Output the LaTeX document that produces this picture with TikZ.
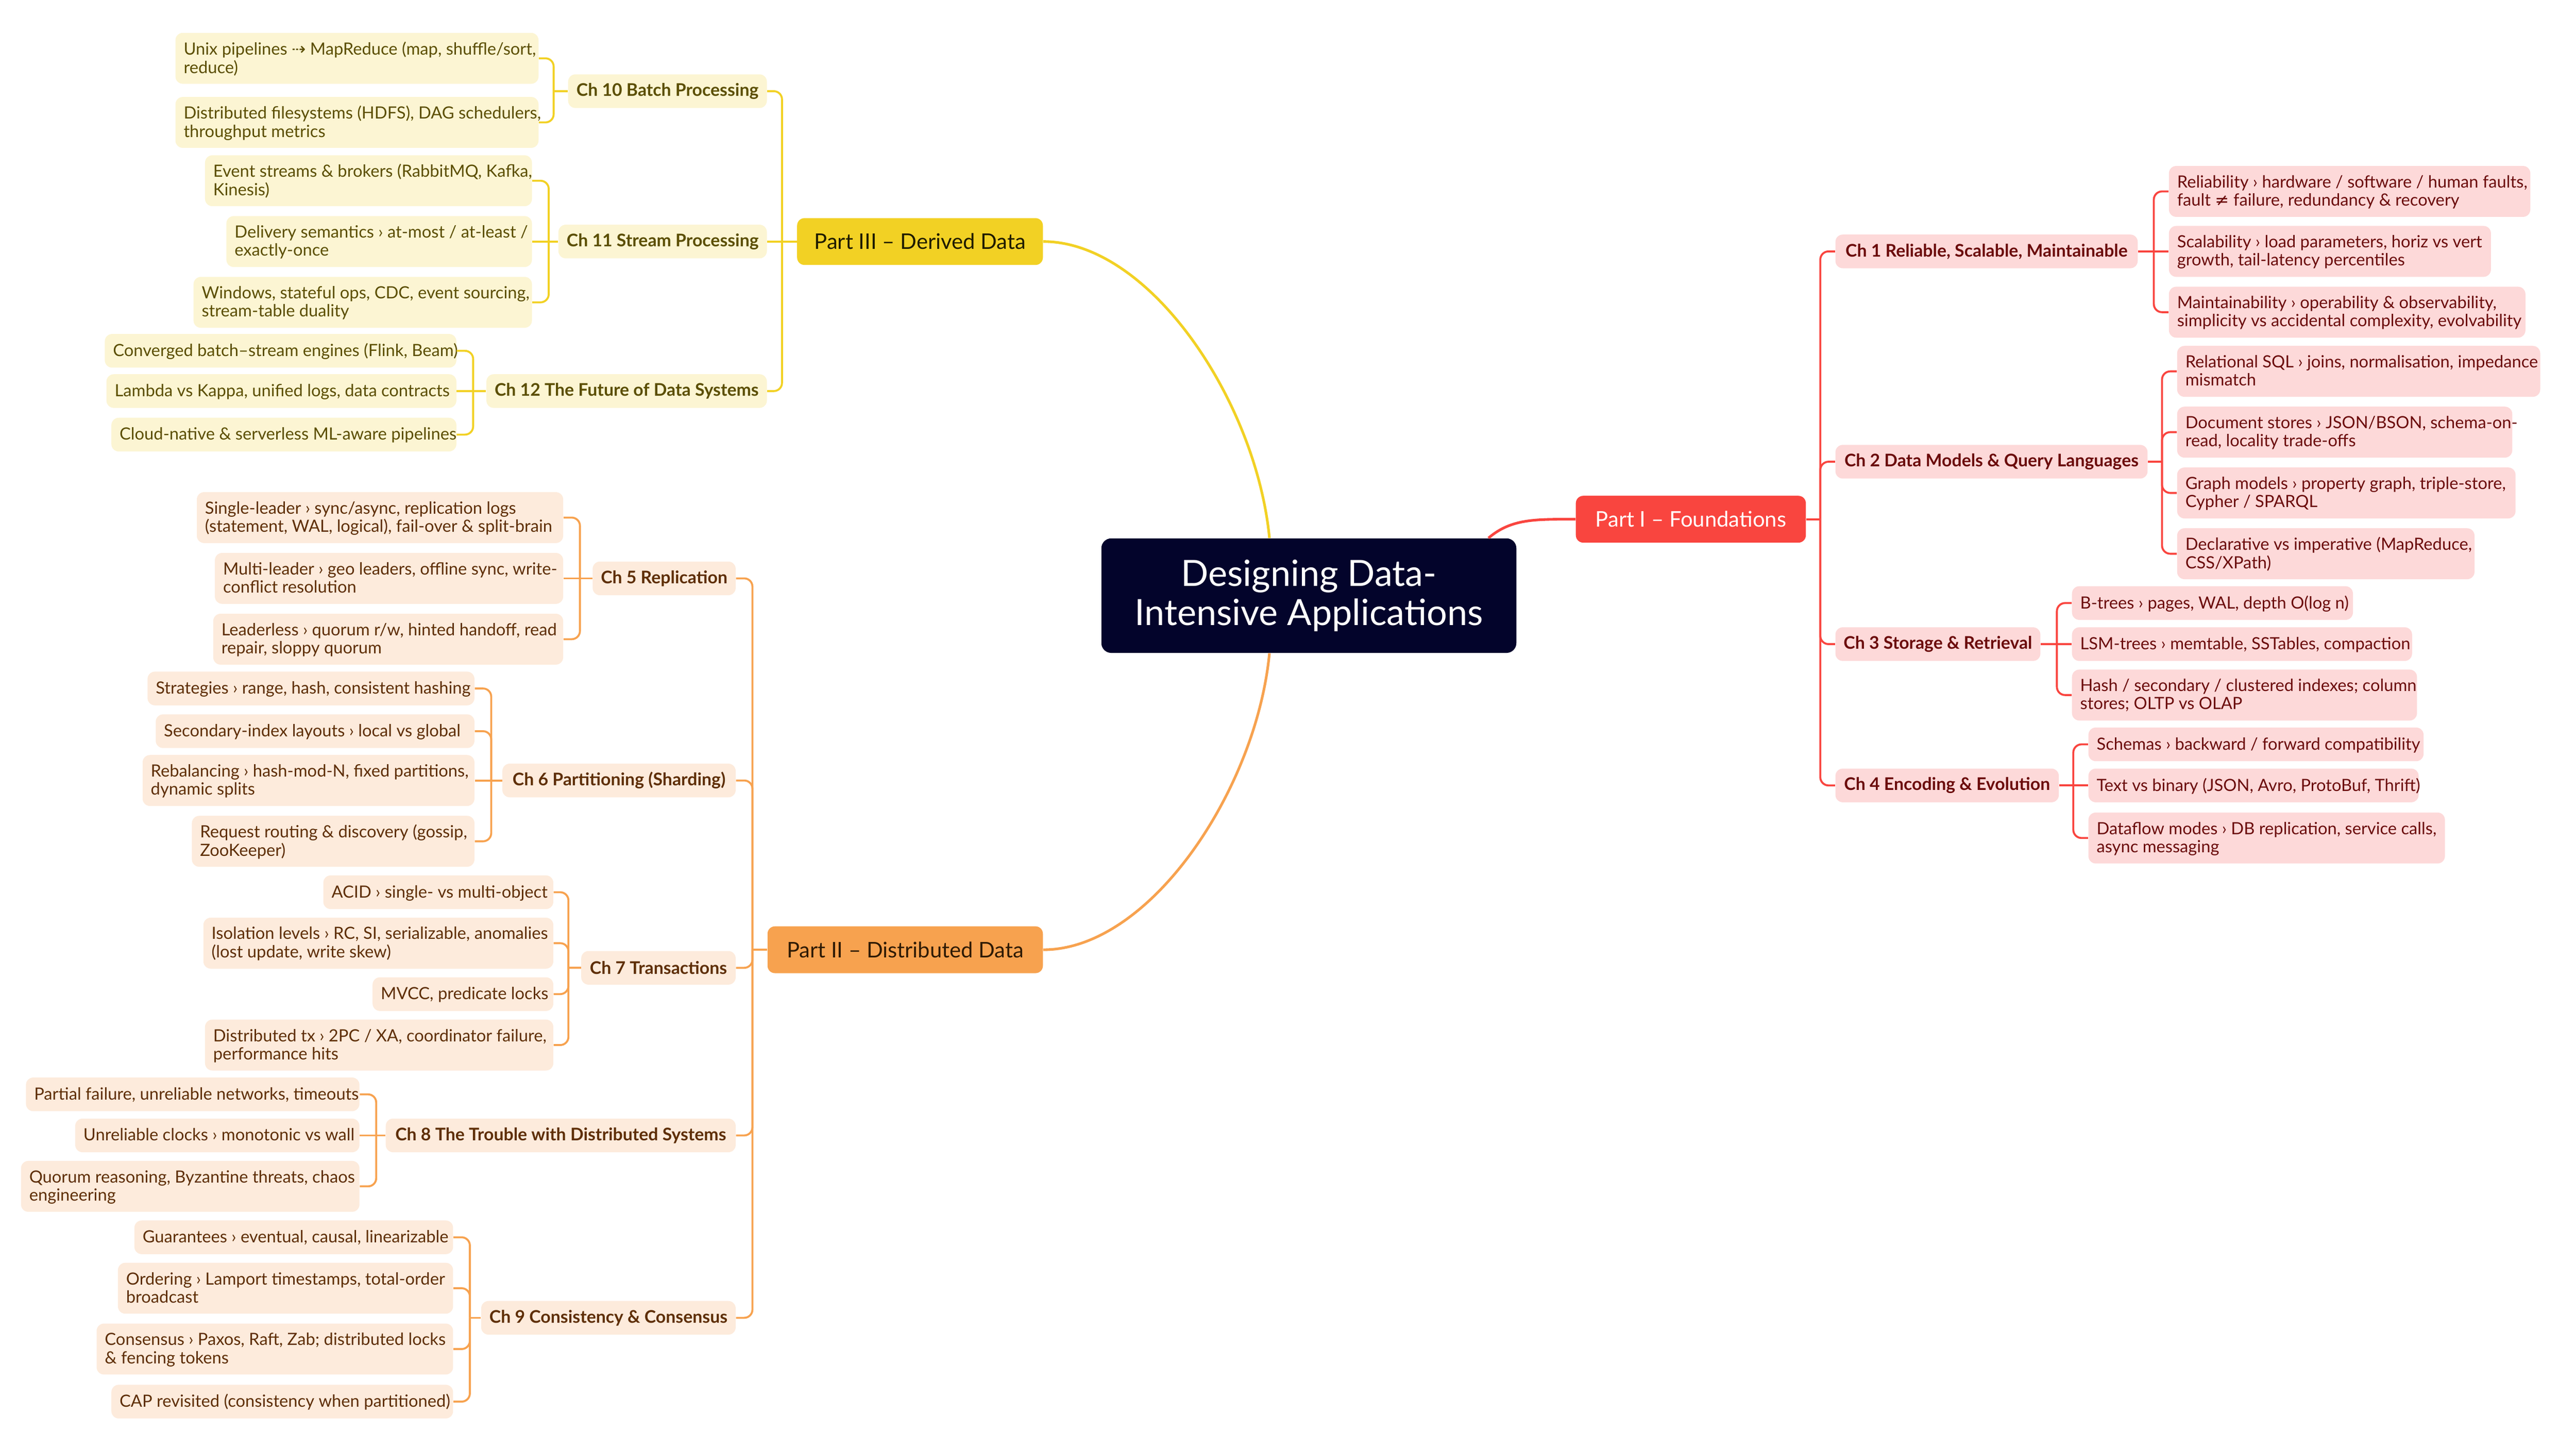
\documentclass[tikz,border=0pt]{standalone}
\usepackage{fontspec}
\setmainfont{Lato}
\newfontfamily\symf{DejaVu Sans}
\usetikzlibrary{calc}
\definecolor{redM}{HTML}{F9453F}
\definecolor{redL}{HTML}{FDD9D9}
\definecolor{redT}{HTML}{6B0B0B}
\definecolor{yelM}{HTML}{F2D124}
\definecolor{yelL}{HTML}{FCF5D3}
\definecolor{yelT}{HTML}{5B4E00}
\definecolor{orgM}{HTML}{F7A24F}
\definecolor{orgL}{HTML}{FDEBDC}
\definecolor{orgT}{HTML}{5E2E05}
\definecolor{navy}{HTML}{03042B}
\definecolor{p3T}{HTML}{1E1B00}
\definecolor{p2T}{HTML}{2E1A05}
\tikzset{
  base/.style={rounded corners=4.5pt, inner xsep=5pt, inner ysep=0pt},
  lfont/.style={font=\fontsize{10.25}{11}\selectfont},
  cfont/.style={font=\bfseries\fontsize{10.6}{12}\selectfont},
  rleaf/.style={base, fill=redL, text=redT, lfont},
  yleaf/.style={base, fill=yelL, text=yelT, lfont},
  oleaf/.style={base, fill=orgL, text=orgT, lfont},
  rchap/.style={base, fill=redL, text=redT, cfont, minimum height=20.5pt},
  ychap/.style={base, fill=yelL, text=yelT, cfont, minimum height=20.5pt},
  ochap/.style={base, fill=orgL, text=orgT, cfont, minimum height=20.5pt},
  partbox/.style={rounded corners=4.5pt, inner sep=0pt, minimum height=28.5pt, font=\fontsize{13.1}{15}\selectfont},
  rline/.style={draw=redM, line width=1.2pt, rounded corners=5pt},
  yline/.style={draw=yelM, line width=1.2pt, rounded corners=5pt},
  oline/.style={draw=orgM, line width=1.2pt, rounded corners=5pt},
}
\newcommand\leaf[8]{\node[#2,anchor=#3,minimum width=#6pt,minimum height=#7pt] (#1) at (#4,#5) {\raisebox{-1.1pt}[\height][\depth]{\makebox[\dimexpr#6pt-10pt\relax][l]{\begin{tabular}{@{}l@{}}#8\end{tabular}}}};}
\begin{document}
\begin{tikzpicture}[x=1pt,y=-1pt]
\useasboundingbox (0,0) rectangle (1568,871.27);
\fill[white] (0,0) rectangle (1568,871.27);

% ---------- centre and parts ----------
\node[fill=navy, text=white, rounded corners=6pt, inner sep=0pt, align=center,
      minimum width=252.6pt, minimum height=69.7pt,
      font=\fontsize{22}{24}\selectfont] (ctr) at (796.7,362.5) {Designing Data-\\Intensive Applications};
\node[partbox, fill=redM, text=white, anchor=west, minimum width=140pt] (p1) at (959,316) {Part I – Foundations};
\node[partbox, fill=yelM, text=p3T, anchor=west, minimum width=149.6pt] (p3) at (485,147) {Part III – Derived Data};
\node[partbox, fill=orgM, text=p2T, anchor=west, minimum width=167.6pt] (p2) at (467,578) {Part II – Distributed Data};

\draw[draw=yelM, line width=1.6pt] ($(ctr.north)+(-24,0)$) .. controls +(-8,-83) and +(65,0) .. (p3.east);
\draw[draw=orgM, line width=1.6pt] ($(ctr.south)+(-24,0)$) .. controls +(-8,83) and +(65,0) .. (p2.east);
\draw[draw=redM, line width=1.6pt] ($(ctr.north)+(109.3,0)$) .. controls +(14,-12) and +(-24,0) .. (p1.west);

% ---------- Part I chapters ----------
\node[rchap, anchor=west, minimum width=184pt] (c1) at (1117,153) {Ch 1 Reliable, Scalable, Maintainable};
\node[rchap, anchor=west, minimum width=190pt] (c2) at (1117,281) {Ch 2 Data Models \& Query Languages};
\node[rchap, anchor=west, minimum width=124pt] (c3) at (1117,392) {Ch 3 Storage \& Retrieval};
\node[rchap, anchor=west, minimum width=136pt] (c4) at (1117,478) {Ch 4 Encoding \& Evolution};

\leaf{r11}{rleaf}{west}{1320}{116.5}{220}{31}{Reliability › hardware / software / human faults,\\fault {\symf ≠} failure, redundancy \& recovery}
\leaf{r12}{rleaf}{west}{1320}{153}{196}{31}{Scalability › load parameters, horiz vs vert\\growth, tail-latency percentiles}
\leaf{r13}{rleaf}{west}{1320}{190}{217}{31}{Maintainability › operability \& observability,\\simplicity vs accidental complexity, evolvability}
\leaf{r21}{rleaf}{west}{1325}{226}{221}{31}{Relational SQL › joins, normalisation, impedance\\mismatch}
\leaf{r22}{rleaf}{west}{1325}{263}{204}{31}{Document stores › JSON/BSON, schema-on-\\read, locality trade-offs}
\leaf{r23}{rleaf}{west}{1325}{300}{206}{31}{Graph models › property graph, triple-store,\\Cypher / SPARQL}
\leaf{r24}{rleaf}{west}{1325}{337}{181}{31}{Declarative vs imperative (MapReduce,\\CSS/XPath)}
\leaf{r31}{rleaf}{west}{1261}{367}{171}{20.5}{B-trees › pages, WAL, depth O(log n)}
\leaf{r32}{rleaf}{west}{1261}{392}{207}{20.5}{LSM-trees › memtable, SSTables, compaction}
\leaf{r33}{rleaf}{west}{1261}{423}{210}{31}{Hash / secondary / clustered indexes; column\\stores; OLTP vs OLAP}
\leaf{r41}{rleaf}{west}{1271}{453}{204}{20.5}{Schemas › backward / forward compatibility}
\leaf{r42}{rleaf}{west}{1271}{478}{201}{20.5}{Text vs binary (JSON, Avro, ProtoBuf, Thrift)}
\leaf{r43}{rleaf}{west}{1271}{510}{217}{31}{Dataflow modes › DB replication, service calls,\\async messaging}

\coordinate (tP1) at (1108,316);
\draw[rline] (p1.east) -- (tP1);
\foreach \n in {c1,c2,c3,c4} \draw[rline] (tP1) -- (tP1 |- \n.west) -- (\n.west);
\coordinate (t1) at (1311,153);
\draw[rline] (c1.east) -- (t1) -- (r12.west);
\foreach \n in {r11,r13} \draw[rline] (t1) -- (t1 |- \n.west) -- (\n.west);
\coordinate (t2) at (1316,281);
\draw[rline] (c2.east) -- (t2);
\foreach \n in {r21,r22,r23,r24} \draw[rline] (t2) -- (t2 |- \n.west) -- (\n.west);
\coordinate (t3) at (1252,392);
\draw[rline] (c3.east) -- (t3) -- (r32.west);
\foreach \n in {r31,r33} \draw[rline] (t3) -- (t3 |- \n.west) -- (\n.west);
\coordinate (t4) at (1262,478);
\draw[rline] (c4.east) -- (t4) -- (r42.west);
\foreach \n in {r41,r43} \draw[rline] (t4) -- (t4 |- \n.west) -- (\n.west);

% ---------- Part III chapters ----------
\node[ychap, anchor=east, minimum width=121pt] (c10) at (467,55.5) {Ch 10 Batch Processing};
\node[ychap, anchor=east, minimum width=125pt] (c11) at (467,147) {Ch 11 Stream Processing};
\node[ychap, anchor=east, minimum width=170pt] (c12) at (467,238) {Ch 12 The Future of Data Systems};

\leaf{y101}{yleaf}{east}{328}{35.5}{221}{31}{Unix pipelines {\symf ⇢} MapReduce (map, shuffle/sort,\\reduce)}
\leaf{y102}{yleaf}{east}{328}{74.5}{221}{31}{Distributed filesystems (HDFS), DAG schedulers,\\throughput metrics}
\leaf{y111}{yleaf}{east}{324}{110}{199}{31}{Event streams \& brokers (RabbitMQ, Kafka,\\Kinesis)}
\leaf{y112}{yleaf}{east}{324}{147}{186}{31}{Delivery semantics › at-most / at-least /\\exactly-once}
\leaf{y113}{yleaf}{east}{324}{184}{206}{31}{Windows, stateful ops, CDC, event sourcing,\\stream-table duality}
\leaf{y121}{yleaf}{east}{278}{213.5}{214}{20.5}{Converged batch–stream engines (Flink, Beam)}
\leaf{y122}{yleaf}{east}{278}{238}{213}{20.5}{Lambda vs Kappa, unified logs, data contracts}
\leaf{y123}{yleaf}{east}{278}{264.5}{210}{20.5}{Cloud-native \& serverless ML-aware pipelines}

\coordinate (tP3) at (476,147);
\draw[yline] (p3.west) -- (tP3) -- (c11.east);
\foreach \n in {c10,c12} \draw[yline] (tP3) -- (tP3 |- \n.east) -- (\n.east);
\coordinate (t10) at (337,55.5);
\draw[yline] (c10.west) -- (t10);
\foreach \n in {y101,y102} \draw[yline] (t10) -- (t10 |- \n.east) -- (\n.east);
\coordinate (t11) at (334,147);
\draw[yline] (c11.west) -- (t11) -- (y112.east);
\foreach \n in {y111,y113} \draw[yline] (t11) -- (t11 |- \n.east) -- (\n.east);
\coordinate (t12) at (288,238);
\draw[yline] (c12.west) -- (t12) -- (y122.east);
\foreach \n in {y121,y123} \draw[yline] (t12) -- (t12 |- \n.east) -- (\n.east);

% ---------- Part II chapters ----------
\node[ochap, anchor=east, minimum width=86pt] (c5) at (448,352) {Ch 5 Replication};
\node[ochap, anchor=east, minimum width=142pt] (c6) at (448,475) {Ch 6 Partitioning (Sharding)};
\node[ochap, anchor=east, minimum width=94pt] (c7) at (448,589) {Ch 7 Transactions};
\node[ochap, anchor=east, minimum width=213pt] (c8) at (448,691) {Ch 8 The Trouble with Distributed Systems};
\node[ochap, anchor=east, minimum width=153pt] (c9) at (448,802) {Ch 9 Consistency \& Consensus};

\leaf{o51}{oleaf}{east}{343}{315}{223}{31}{Single-leader › sync/async, replication logs\\(statement, WAL, logical), fail-over \& split-brain}
\leaf{o52}{oleaf}{east}{343}{352}{212}{31}{Multi-leader › geo leaders, offline sync, write-\\conflict resolution}
\leaf{o53}{oleaf}{east}{343}{389}{213}{31}{Leaderless › quorum r/w, hinted handoff, read\\repair, sloppy quorum}
\leaf{o61}{oleaf}{east}{289}{419}{199}{20.5}{Strategies › range, hash, consistent hashing}
\leaf{o62}{oleaf}{east}{289}{445}{194}{20.5}{Secondary-index layouts › local vs global}
\leaf{o63}{oleaf}{east}{289}{475}{202}{31}{Rebalancing › hash-mod-N, fixed partitions,\\dynamic splits}
\leaf{o64}{oleaf}{east}{289}{512}{172}{31}{Request routing \& discovery (gossip,\\ZooKeeper)}
\leaf{o71}{oleaf}{east}{337}{543}{140}{20.5}{ACID › single- vs multi-object}
\leaf{o72}{oleaf}{east}{337}{574}{213}{31}{Isolation levels › RC, SI, serializable, anomalies\\(lost update, write skew)}
\leaf{o73}{oleaf}{east}{337}{605}{110}{20.5}{MVCC, predicate locks}
\leaf{o74}{oleaf}{east}{337}{636}{212}{31}{Distributed tx › 2PC / XA, coordinator failure,\\performance hits}
\leaf{o81}{oleaf}{east}{219}{666}{203}{20.5}{Partial failure, unreliable networks, timeouts}
\leaf{o82}{oleaf}{east}{219}{691}{173}{20.5}{Unreliable clocks › monotonic vs wall}
\leaf{o83}{oleaf}{east}{219}{722}{206}{31}{Quorum reasoning, Byzantine threats, chaos\\engineering}
\leaf{o91}{oleaf}{east}{276}{753}{194}{20.5}{Guarantees › eventual, causal, linearizable}
\leaf{o92}{oleaf}{east}{276}{784}{204}{31}{Ordering › Lamport timestamps, total-order\\broadcast}
\leaf{o93}{oleaf}{east}{276}{821}{217}{31}{Consensus › Paxos, Raft, Zab; distributed locks\\\& fencing tokens}
\leaf{o94}{oleaf}{east}{276}{853}{208}{20.5}{CAP revisited (consistency when partitioned)}

\coordinate (tP2) at (458,578);
\draw[oline] (p2.west) -- (tP2);
\foreach \n in {c5,c6,c7,c8,c9} \draw[oline] (tP2) -- (tP2 |- \n.east) -- (\n.east);
\coordinate (t5) at (353,352);
\draw[oline] (c5.west) -- (t5) -- (o52.east);
\foreach \n in {o51,o53} \draw[oline] (t5) -- (t5 |- \n.east) -- (\n.east);
\coordinate (t6) at (299,475);
\draw[oline] (c6.west) -- (t6) -- (o63.east);
\foreach \n in {o61,o62,o64} \draw[oline] (t6) -- (t6 |- \n.east) -- (\n.east);
\coordinate (t7) at (346,589);
\draw[oline] (c7.west) -- (t7);
\foreach \n in {o71,o72,o73,o74} \draw[oline] (t7) -- (t7 |- \n.east) -- (\n.east);
\coordinate (t8) at (229,691);
\draw[oline] (c8.west) -- (t8) -- (o82.east);
\foreach \n in {o81,o83} \draw[oline] (t8) -- (t8 |- \n.east) -- (\n.east);
\coordinate (t9) at (286,802);
\draw[oline] (c9.west) -- (t9);
\foreach \n in {o91,o92,o93,o94} \draw[oline] (t9) -- (t9 |- \n.east) -- (\n.east);
\end{tikzpicture}
\end{document}
